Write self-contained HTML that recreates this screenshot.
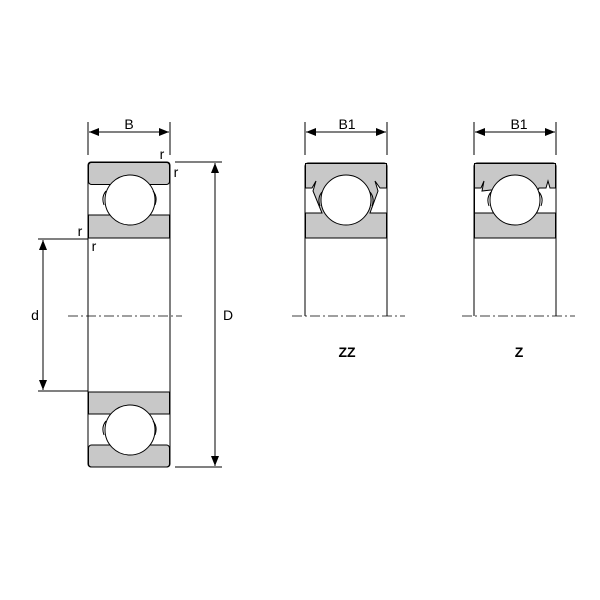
<!DOCTYPE html><html><head><style>body{margin:0;background:#fff}svg{display:block}text{font-family:"Liberation Sans",sans-serif;font-size:14px;fill:#000}</style></head><body>
<svg width="600" height="600" viewBox="0 0 600 600">
<defs><marker id="a" markerWidth="10" markerHeight="8" refX="10" refY="4" orient="auto-start-reverse" markerUnits="userSpaceOnUse"><path d="M0,0L10,4L0,8z" fill="#000"/></marker></defs>
<g stroke="#000" stroke-width="1" fill="none">
<rect x="88" y="162" width="82" height="305" rx="3"/>
<rect x="88.5" y="162.5" width="81" height="22" rx="3" fill="#c8c8c8"/>
<rect x="88.5" y="215" width="81" height="23" fill="#c8c8c8"/>
<circle cx="130" cy="200" r="25" fill="#fff"/>
<path d="M104,205q-3,-8 2,-14M155,205q3,-8 -2,-14"/>
<rect x="88.5" y="392" width="81" height="22" fill="#c8c8c8"/>
<rect x="88.5" y="445" width="81" height="22" rx="3" fill="#c8c8c8"/>
<circle cx="130" cy="430" r="25" fill="#fff"/>
<path d="M104,435q-3,-8 2,-14M155,435q3,-8 -2,-14"/>
<path d="M88,122V155M170,122V155"/>
<line x1="89" y1="132" x2="169" y2="132" marker-start="url(#a)" marker-end="url(#a)"/>
<path d="M175,162H222M175,467H222M38,239H88M38,391H88"/>
<line x1="215" y1="163" x2="215" y2="466" marker-start="url(#a)" marker-end="url(#a)"/>
<line x1="43" y1="240" x2="43" y2="390" marker-start="url(#a)" marker-end="url(#a)"/>
<path d="M68,316H182" stroke-dasharray="10,3,2,3" stroke-width="0.8"/>
<path d="M305,316V166a3,3 0 0 1 3,-3H384a3,3 0 0 1 3,3V316"/>
<path d="M305.5,163.5H386.5V188H380L375,181L378,191L370,213H386.5V238H305.5V213H322L313,191L316,181L312,188H305.5Z" fill="#c8c8c8"/>
<circle cx="346" cy="200" r="25" fill="#fff"/>
<path d="M320,206q-3,-8 2,-14M372,206q3,-8 -2,-14"/>
<path d="M305,122V155M387,122V155"/>
<line x1="306" y1="132" x2="386" y2="132" marker-start="url(#a)" marker-end="url(#a)"/>
<path d="M292,316H405" stroke-dasharray="10,3,2,3" stroke-width="0.8"/>
<path d="M474,316V166a3,3 0 0 1 3,-3H553a3,3 0 0 1 3,3V316"/>
<path d="M474.5,163.5H555.5V188H550L548,181L546,188H539L538,190H491L482,191L484,181L481,188H474.5V213H490V213H555.5V238H474.5Z" fill="#c8c8c8"/>
<circle cx="515" cy="200" r="25" fill="#fff"/>
<path d="M489,206q-3,-8 2,-14M541,206q3,-8 -2,-14"/>
<path d="M474,122V155M556,122V155"/>
<line x1="475" y1="132" x2="555" y2="132" marker-start="url(#a)" marker-end="url(#a)"/>
<path d="M462,316H575" stroke-dasharray="10,3,2,3" stroke-width="0.8"/>
</g>
<text x="129" y="129" text-anchor="middle">B</text>
<text x="162" y="159" text-anchor="middle">r</text>
<text x="176" y="177" text-anchor="middle">r</text>
<text x="80" y="236" text-anchor="middle">r</text>
<text x="94" y="251" text-anchor="middle">r</text>
<text x="35" y="320" text-anchor="middle">d</text>
<text x="228" y="320" text-anchor="middle">D</text>
<text x="347" y="129" text-anchor="middle">B1</text>
<text x="519" y="129" text-anchor="middle">B1</text>
<text x="347" y="357" text-anchor="middle" font-weight="bold">ZZ</text>
<text x="519" y="357" text-anchor="middle" font-weight="bold">Z</text>
</svg></body></html>
